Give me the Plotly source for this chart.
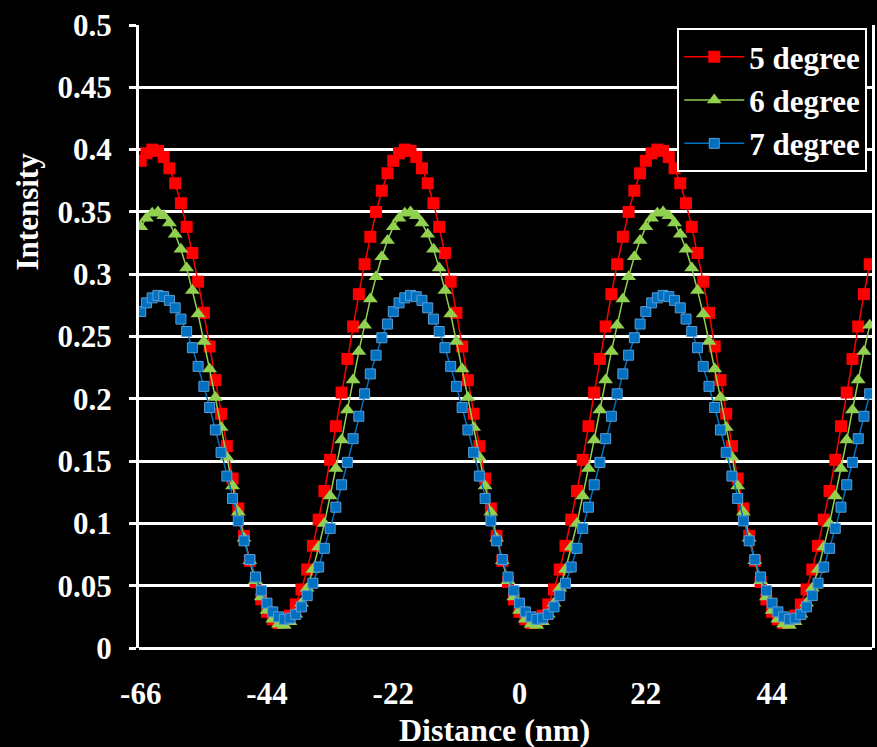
import plotly.graph_objects as go

# Distance axis (nm), one sample per nm
distance = list(range(-66, 62))

intensity_5deg = [
    0.391, 0.397, 0.400, 0.399, 0.394, 0.385, 0.373, 0.357, 0.338, 0.317, 0.294, 0.269, 0.242, 0.215,
    0.188, 0.162, 0.136, 0.112, 0.090, 0.070, 0.053, 0.039, 0.029, 0.023, 0.020, 0.021, 0.026, 0.035,
    0.047, 0.063, 0.082, 0.103, 0.126, 0.151, 0.178, 0.205, 0.232, 0.258, 0.284, 0.308, 0.330, 0.350,
    0.367, 0.381,
    0.391, 0.397, 0.400, 0.399, 0.394, 0.385, 0.373, 0.357, 0.338, 0.317, 0.294, 0.269, 0.242, 0.215,
    0.188, 0.162, 0.136, 0.112, 0.090, 0.070, 0.053, 0.039, 0.029, 0.023, 0.020, 0.021, 0.026, 0.035,
    0.047, 0.063, 0.082, 0.103, 0.126, 0.151, 0.178, 0.205, 0.232, 0.258, 0.284, 0.308, 0.330, 0.350,
    0.367, 0.381,
    0.391, 0.397, 0.400, 0.399, 0.394, 0.385, 0.373, 0.357, 0.338, 0.317, 0.294, 0.269, 0.242, 0.215,
    0.188, 0.162, 0.136, 0.112, 0.090, 0.070, 0.053, 0.039, 0.029, 0.023, 0.020, 0.021, 0.026, 0.035,
    0.047, 0.063, 0.082, 0.103, 0.126, 0.151, 0.178, 0.205, 0.232, 0.258, 0.284, 0.308,
]

intensity_6deg = [
    0.338, 0.345, 0.349, 0.350, 0.347, 0.341, 0.332, 0.320, 0.305, 0.287, 0.268, 0.246, 0.224, 0.201,
    0.177, 0.153, 0.130, 0.109, 0.088, 0.070, 0.054, 0.041, 0.030, 0.023, 0.019, 0.018, 0.021, 0.027,
    0.036, 0.048, 0.063, 0.081, 0.100, 0.122, 0.144, 0.167, 0.191, 0.215, 0.238, 0.259, 0.280, 0.298,
    0.314, 0.327,
    0.338, 0.345, 0.349, 0.350, 0.347, 0.341, 0.332, 0.320, 0.305, 0.287, 0.268, 0.246, 0.224, 0.201,
    0.177, 0.153, 0.130, 0.109, 0.088, 0.070, 0.054, 0.041, 0.030, 0.023, 0.019, 0.018, 0.021, 0.027,
    0.036, 0.048, 0.063, 0.081, 0.100, 0.122, 0.144, 0.167, 0.191, 0.215, 0.238, 0.259, 0.280, 0.298,
    0.314, 0.327,
    0.338, 0.345, 0.349, 0.350, 0.347, 0.341, 0.332, 0.320, 0.305, 0.287, 0.268, 0.246, 0.224, 0.201,
    0.177, 0.153, 0.130, 0.109, 0.088, 0.070, 0.054, 0.041, 0.030, 0.023, 0.019, 0.018, 0.021, 0.027,
    0.036, 0.048, 0.063, 0.081, 0.100, 0.122, 0.144, 0.167, 0.191, 0.215, 0.238, 0.259,
]

intensity_7deg = [
    0.270, 0.277, 0.281, 0.283, 0.282, 0.279, 0.273, 0.264, 0.254, 0.241, 0.226, 0.210, 0.193, 0.175,
    0.157, 0.138, 0.120, 0.102, 0.086, 0.071, 0.057, 0.046, 0.036, 0.029, 0.025, 0.023, 0.024, 0.027,
    0.033, 0.042, 0.052, 0.065, 0.080, 0.096, 0.113, 0.131, 0.149, 0.168, 0.186, 0.204, 0.220, 0.235,
    0.249, 0.260,
    0.270, 0.277, 0.281, 0.283, 0.282, 0.279, 0.273, 0.264, 0.254, 0.241, 0.226, 0.210, 0.193, 0.175,
    0.157, 0.138, 0.120, 0.102, 0.086, 0.071, 0.057, 0.046, 0.036, 0.029, 0.025, 0.023, 0.024, 0.027,
    0.033, 0.042, 0.052, 0.065, 0.080, 0.096, 0.113, 0.131, 0.149, 0.168, 0.186, 0.204, 0.220, 0.235,
    0.249, 0.260,
    0.270, 0.277, 0.281, 0.283, 0.282, 0.279, 0.273, 0.264, 0.254, 0.241, 0.226, 0.210, 0.193, 0.175,
    0.157, 0.138, 0.120, 0.102, 0.086, 0.071, 0.057, 0.046, 0.036, 0.029, 0.025, 0.023, 0.024, 0.027,
    0.033, 0.042, 0.052, 0.065, 0.080, 0.096, 0.113, 0.131, 0.149, 0.168, 0.186, 0.204,
]

series_names = ["5 degree", "6 degree", "7 degree"]
x_tick_vals = [-66, -44, -22, 0, 22, 44]
x_tick_text = ["-66", "-44", "-22", "0", "22", "44"]
y_tick_vals = [0, 0.05, 0.1, 0.15, 0.2, 0.25, 0.3, 0.35, 0.4, 0.45, 0.5]
y_tick_text = ["0", "0.05", "0.1", "0.15", "0.2", "0.25", "0.3", "0.35", "0.4", "0.45", "0.5"]

FONT = "Liberation Serif, Times New Roman, serif"

fig = go.Figure()
fig.add_trace(go.Scatter(
    x=distance, y=intensity_5deg, name=series_names[0], mode="lines+markers",
    line=dict(color="#FF0000", width=1.5),
    marker=dict(symbol="square", size=12, color="#FF0000"),
))
fig.add_trace(go.Scatter(
    x=distance, y=intensity_6deg, name=series_names[1], mode="lines+markers",
    line=dict(color="#92D050", width=1.5),
    marker=dict(symbol="triangle-up", size=13, color="#92D050"),
))
fig.add_trace(go.Scatter(
    x=distance, y=intensity_7deg, name=series_names[2], mode="lines+markers",
    line=dict(color="#0070C0", width=1.5),
    marker=dict(symbol="square", size=10, color="#0070C0",
                line=dict(color="#5B9BD5", width=1)),
))

fig.update_layout(
    width=877, height=747,
    paper_bgcolor="black", plot_bgcolor="black",
    margin=dict(l=139, r=2, t=25, b=99),
    font=dict(family=FONT, size=31, color="white", weight="bold"),
    showlegend=True,
    legend=dict(
        x=0.9935, y=0.995, xanchor="right", yanchor="top",
        bgcolor="black", bordercolor="white", borderwidth=2,
        itemwidth=60, tracegroupgap=0,
        font=dict(family=FONT, size=31, color="white", weight="bold"),
    ),
    xaxis=dict(
        range=[-66.3, 61.4],
        tickmode="array", tickvals=x_tick_vals, ticktext=x_tick_text,
        showgrid=False, zeroline=False, showline=False, ticks="",
        ticklabelstandoff=24,
        tickfont=dict(family=FONT, size=31, color="white", weight="bold"),
    ),
    yaxis=dict(
        range=[0, 0.5],
        tickmode="array", tickvals=y_tick_vals, ticktext=y_tick_text,
        showgrid=True, gridcolor="white", gridwidth=3,
        zeroline=True, zerolinecolor="white", zerolinewidth=3,
        showline=True, linecolor="white", linewidth=3, mirror=True,
        ticks="outside", ticklen=7, tickwidth=3, tickcolor="white",
        ticklabelstandoff=11,
        tickfont=dict(family=FONT, size=31, color="white", weight="bold"),
    ),
    annotations=[
        dict(text="Intensity", xref="paper", yref="paper", x=-0.152, y=0.700,
             xanchor="center", yanchor="middle", textangle=-90, showarrow=False,
             font=dict(family=FONT, size=31, color="white", weight="bold")),
        dict(text="Distance (nm)", xref="paper", yref="paper", x=0.485, y=-0.1316,
             xanchor="center", yanchor="middle", showarrow=False,
             font=dict(family=FONT, size=32, color="white", weight="bold")),
    ],
)

fig.write_html("out.html", config={"displayModeBar": False},
               post_script="document.body.style.margin='0';")
